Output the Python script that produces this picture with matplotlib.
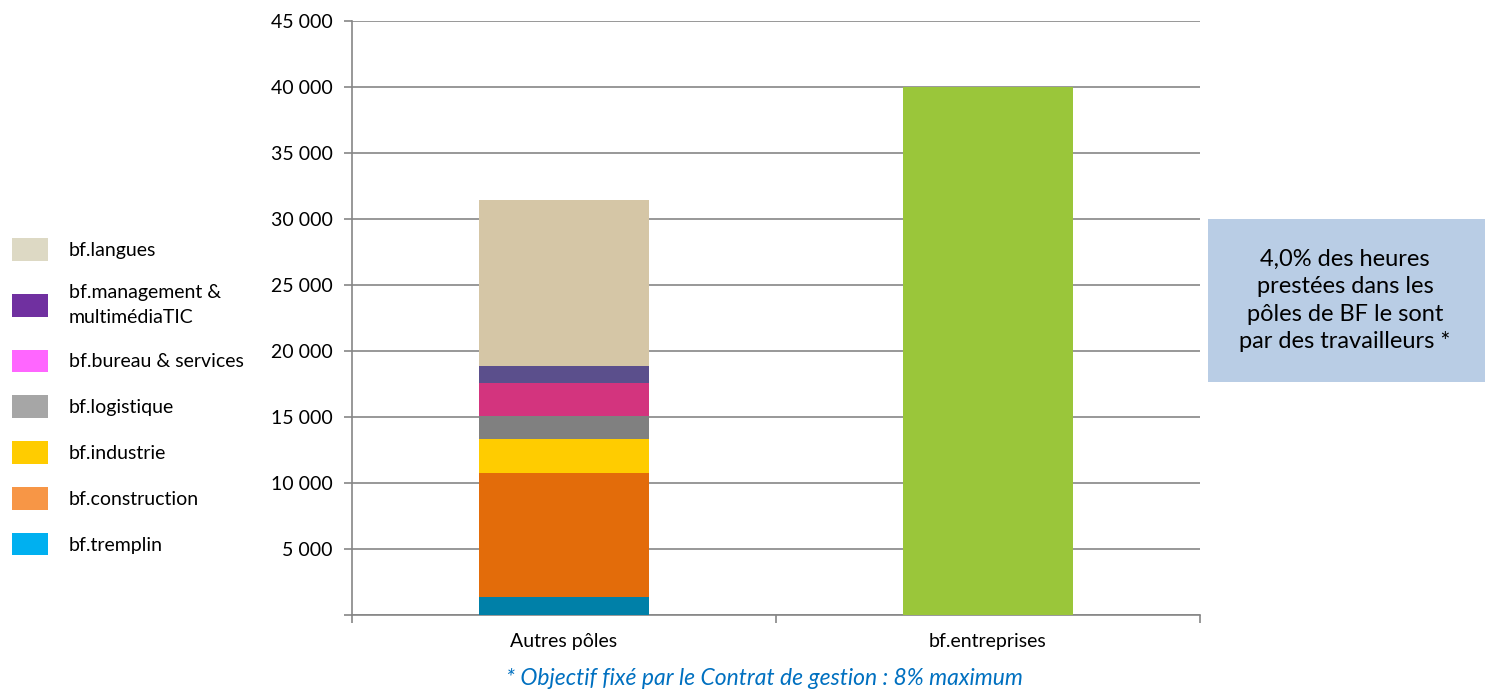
import matplotlib.pyplot as plt
from matplotlib.patches import Patch, Rectangle
from matplotlib.ticker import FuncFormatter

plt.rcParams['font.family'] = ['Lato', 'DejaVu Sans']

categories = ['Autres pôles', 'bf.entreprises']
poles = ['bf.tremplin', 'bf.construction', 'bf.industrie', 'bf.logistique',
         'bf.bureau & services', 'bf.management &\nmultimédiaTIC', 'bf.langues']
pole_hours = [1350, 9400, 2570, 1750, 2470, 1300, 12600]
bar_colors = ['#0080A8', '#E36C0A', '#FFCC00', '#808080', '#D3347E', '#5B4F8C', '#D5C6A6']
legend_colors = ['#00B0F0', '#F79646', '#FFCC00', '#A6A6A6', '#FF66FF', '#7030A0', '#DDD9C4']
entreprises_hours = 40000

fig = plt.figure(figsize=(14.85, 6.9), dpi=100)
ax = fig.add_axes([0.237, 0.1087, 0.571, 0.861])

# stacked bar for the other poles
bottom = 0
for val, col in zip(pole_hours, bar_colors):
    ax.bar(0, val, bottom=bottom, width=0.4, color=col, zorder=3)
    bottom += val
ax.bar(1, entreprises_hours, width=0.4, color='#9AC63A', zorder=3)

ax.set_xlim(-0.5, 1.5)
ax.set_ylim(0, 45000)
ax.set_yticks(range(0, 45001, 5000))
ax.yaxis.set_major_formatter(FuncFormatter(
    lambda v, p: '' if v == 0 else f'{int(v):,}'.replace(',', ' ')))
ax.grid(axis='y', color='#868686', linewidth=1.2, zorder=0)
ax.set_axisbelow(True)

ax.set_xticks([0, 1])
ax.set_xticklabels(categories)
ax.set_xticks([-0.5, 0.5, 1.5], minor=True)
ax.tick_params(axis='x', which='major', length=0, pad=13, labelsize=14)
ax.tick_params(axis='x', which='minor', length=6, color='#868686', width=1.2)
ax.tick_params(axis='y', length=6, color='#868686', width=1.2, labelsize=14, pad=8)

for s in ['top', 'right']:
    ax.spines[s].set_visible(False)
for s in ['left', 'bottom']:
    ax.spines[s].set_color('#868686')
    ax.spines[s].set_linewidth(1.2)

# legend (reversed order, legend colours differ from bar colours)
handles = [Patch(facecolor=c, edgecolor='none') for c in legend_colors[::-1]]
leg = fig.legend(handles, poles[::-1], loc='center left', bbox_to_anchor=(0.0, 0.425),
                 frameon=False, fontsize=14, handlelength=1.85, handleheight=1.4,
                 handletextpad=1.1, labelspacing=1.2, borderaxespad=0.2)
for t in leg.get_texts():
    t.set_linespacing(1.6)

# annotation box
fig.patches.append(Rectangle((0.8135, 0.4464), 0.1865, 0.236, transform=fig.transFigure,
                             facecolor='#B9CDE5', edgecolor='none'))
fig.text(0.9057, 0.5645, '4,0% des heures\nprestées dans les\npôles de BF le sont\npar des travailleurs *',
         ha='center', va='center', fontsize=17, linespacing=1.38)

fig.text(0.515, 0.017, '* Objectif fixé par le Contrat de gestion : 8% maximum',
         ha='center', va='center', fontsize=16.5, style='italic', color='#0070C0')

fig.savefig('out.png', dpi=100)
